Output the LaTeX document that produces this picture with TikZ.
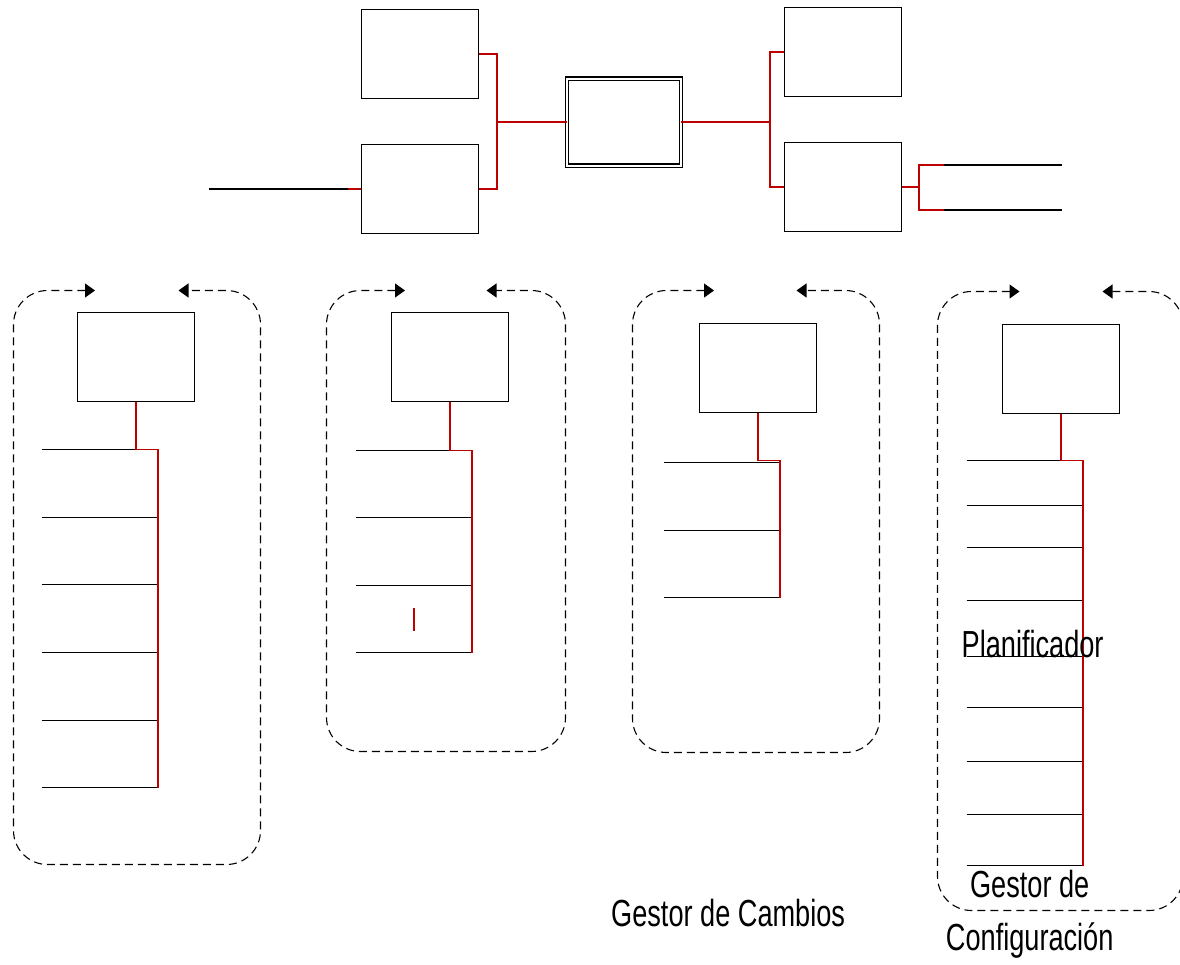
\documentclass[tikz,border=0pt]{standalone}
\usepackage{fontspec}
\usetikzlibrary{arrows.meta}
\newfontfamily\labelfont[FakeStretch=0.72]{Liberation Sans}
\definecolor{linkred}{RGB}{190,0,0}
\begin{document}
\begin{tikzpicture}[x=1pt,y=-1pt,
  box/.style={draw=black,line width=1.2pt,minimum width=117pt,minimum height=89pt,inner sep=0pt},
  dbox/.style={draw=black,line width=1.1pt,double,double distance=2pt,minimum width=113.8pt,minimum height=87pt,inner sep=0pt},
  rline/.style={draw=linkred,line width=1.5pt},
  bline/.style={draw=black,line width=1.2pt},
  frame/.style={draw=black,line width=1.1pt,dash pattern=on 8pt off 5pt,rounded corners=34pt,
     {Triangle[length=10pt,width=14pt]}-{Triangle[length=10pt,width=14pt]}},
  lbl/.style={font=\labelfont\fontsize{37.7pt}{53.7pt}\selectfont,inner sep=0pt,text=black}]
\useasboundingbox (0,0) rectangle (1180,964);

% ---------- top part ----------
\node[box] (A) at (420,54) {};
\node[box] (B) at (420,189) {};
\node[dbox] (M) at (624,122) {};
\node[box] (C) at (843,52) {};
\node[box] (D) at (843,187) {};

\coordinate (L0) at (209,189);
\coordinate (L1) at (348,189);
\draw[bline] (L0) -- (L1);
\draw[rline] (L1) -- (B.west);

\coordinate (J1) at (497,122);
\draw[rline] (A.east) -| (J1);
\draw[rline] (J1) |- (B.east);
\draw[rline] (J1) -- (M.west);

\coordinate (J2) at (770,122);
\draw[rline] (M.east) -- (J2);
\draw[rline] (J2) |- (C.west);
\draw[rline] (J2) |- (D.west);

\coordinate (J3) at (919,187);
\coordinate (R1) at (944,165);
\coordinate (R2) at (944,210);
\coordinate (E1) at (1062,165);
\coordinate (E2) at (1062,210);
\draw[rline] (D.east) -- (J3);
\draw[rline] (J3) |- (R1);
\draw[rline] (J3) |- (R2);
\draw[bline] (R1) -- (E1);
\draw[bline] (R2) -- (E2);

% ---------- group 1 ----------
\coordinate (f1a) at (95,290.5);
\coordinate (f1b) at (178.5,290.5);
\draw[frame] (f1a) -- (13.5,290.5) -- (13.5,864.5) -- (260.5,864.5) -- (260.5,290.5) -- (f1b);
\node[box] (G1) at (136,357) {};
\foreach \y [count=\i] in {449.5,517.5,584.5,652.5,720.5,787.5}{
  \coordinate (g1l\i) at (41.5,\y);
  \coordinate (g1r\i) at (158,\y);
  \draw[bline] (g1l\i) -- (g1r\i);
}
\draw[rline] (G1.south) |- (g1r1) -- (g1r6);

% ---------- group 2 ----------
\coordinate (f2a) at (405,290.5);
\coordinate (f2b) at (486.5,290.5);
\draw[frame] (f2a) -- (326.5,290.5) -- (326.5,751.5) -- (565.5,751.5) -- (565.5,290.5) -- (f2b);
\node[box] (G2) at (450,357) {};
\foreach \y [count=\i] in {450.5,517.5,585.5,652.5}{
  \coordinate (g2l\i) at (355.5,\y);
  \coordinate (g2r\i) at (472,\y);
  \draw[bline] (g2l\i) -- (g2r\i);
}
\draw[rline] (G2.south) |- (g2r1) -- (g2r4);
\coordinate (t2a) at (414,607.5);
\coordinate (t2b) at (414,630.5);
\draw[rline] (t2a) -- (t2b);

% ---------- group 3 ----------
\coordinate (f3a) at (714,290.5);
\coordinate (f3b) at (796.5,290.5);
\draw[frame] (f3a) -- (632.5,290.5) -- (632.5,752.5) -- (879.5,752.5) -- (879.5,290.5) -- (f3b);
\node[box] (G3) at (758,368) {};
\foreach \y [count=\i] in {462.5,530.5,597.5}{
  \coordinate (g3l\i) at (663.5,\y);
  \coordinate (g3r\i) at (780,\y);
  \draw[bline] (g3l\i) -- (g3r\i);
}
\coordinate (g3m) at (780,460.5);
\draw[rline] (G3.south) |- (g3m) -- (g3r3);

% ---------- group 4 ----------
\coordinate (f4a) at (1019.5,291.5);
\coordinate (f4b) at (1102.5,291.5);
\draw[frame] (f4a) -- (937.5,291.5) -- (937.5,910.5) -- (1183,910.5) -- (1183,291.5) -- (f4b);
\node[box] (G4) at (1061,369) {};
\foreach \y [count=\i] in {460.5,505.5,547.5,600.5,656.5,707.5,761.5,814.5,865.5}{
  \coordinate (g4l\i) at (966.5,\y);
  \coordinate (g4r\i) at (1083,\y);
  \draw[bline] (g4l\i) -- (g4r\i);
}
\draw[rline] (G4.south) |- (g4r1) -- (g4r9);

% ---------- labels ----------
\node[lbl,anchor=base west] (planif) at (961.5,657) {Planificador};
\node[lbl,anchor=base west] (cambios) at (611,926.7) {Gestor de Cambios};
\node[lbl,anchor=base,align=center] (config) at (1029.7,950.7) {Gestor de\\Configuración};
\end{tikzpicture}
\end{document}
